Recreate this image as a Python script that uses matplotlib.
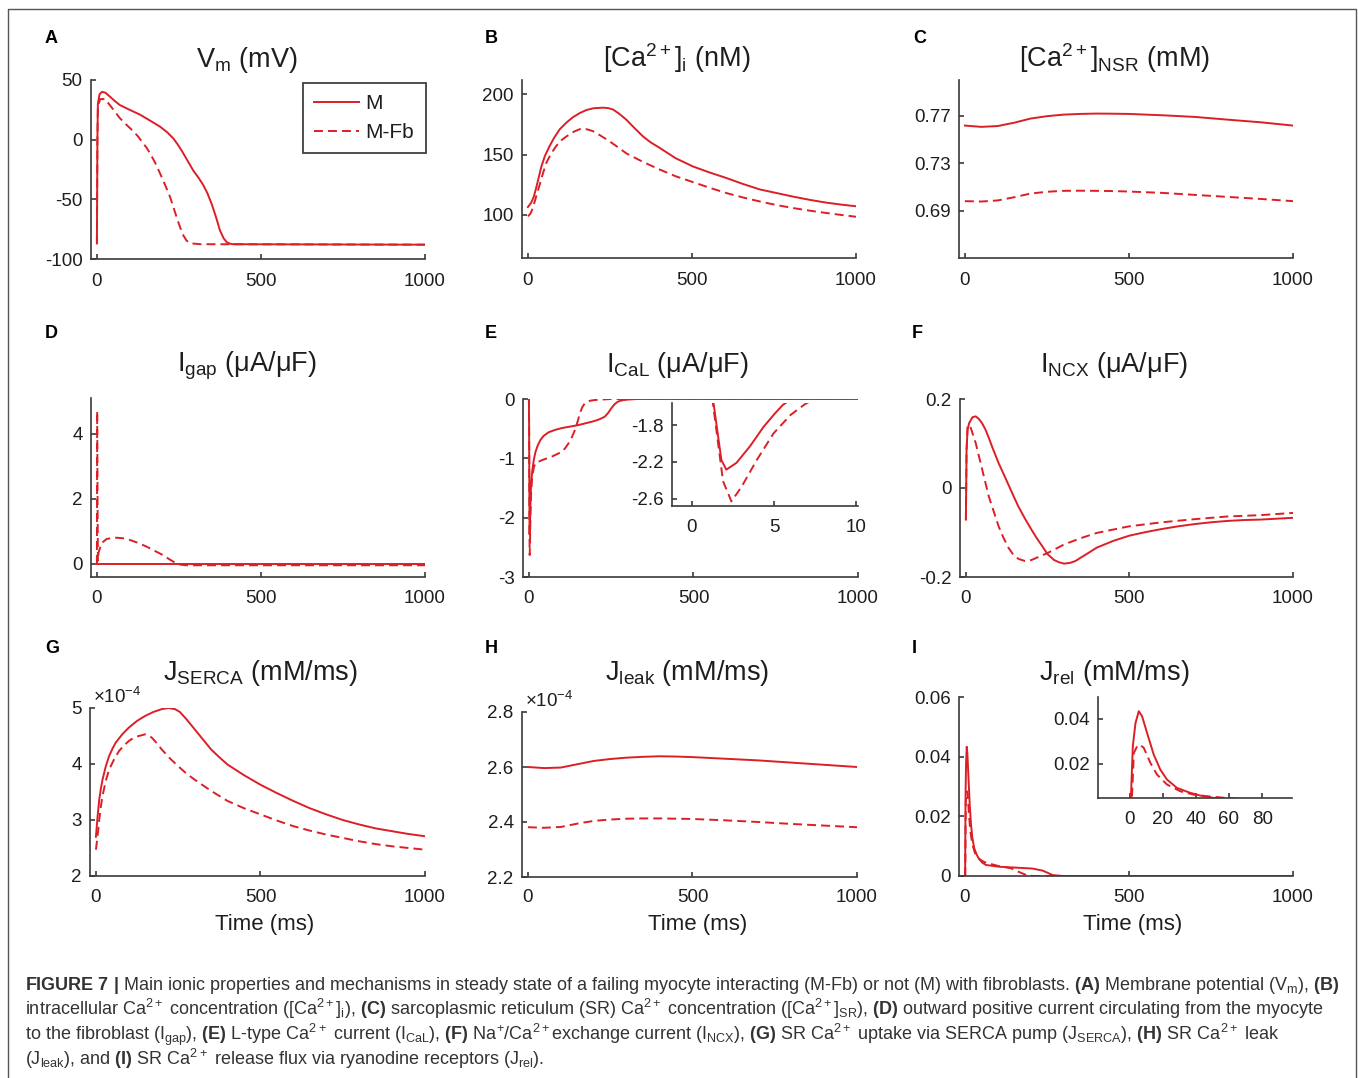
import numpy as np
import matplotlib
matplotlib.use('Agg')
import matplotlib.pyplot as plt
from matplotlib.lines import Line2D
from matplotlib.ticker import FuncFormatter

plt.rcParams['font.family'] = ['Liberation Sans', 'DejaVu Sans']
plt.rcParams['mathtext.fontset'] = 'custom'
plt.rcParams['mathtext.rm'] = 'Liberation Sans'
plt.rcParams['mathtext.it'] = 'Liberation Sans:italic'
plt.rcParams['mathtext.bf'] = 'Liberation Sans:bold'
plt.rcParams['axes.unicode_minus'] = False

RED = '#dc1f26'
AXC = '#3a3a3a'
TXT = '#1e1e1e'

# ---- A : Vm (mV) ----
vm_t_m = [0, 1.5, 3, 8, 15, 25, 40, 55, 70, 100, 131, 160, 192, 215, 233, 245, 258, 275, 294,
          310, 324, 337, 350, 362, 375, 386, 396, 406, 416, 1000]
vm_m = [-87, 0, 30, 38, 40, 39.5, 36, 32.3, 29, 25, 21, 16.3, 11, 6, 1, -3.5, -9, -17, -26,
        -32, -38, -45, -54, -64, -76, -82.5, -86, -87.2, -87.6, -88]
vm_t_fb = [0, 1.5, 3, 10, 25, 45, 70, 90, 111, 126, 141, 152, 162, 177, 192, 208, 223, 233, 243,
           253, 263, 273, 284, 314, 1000]
vm_fb = [-87, 0, 28, 34, 34, 27, 18, 12.5, 7, 2.5, -3, -7, -11.5, -19, -28, -38, -48, -56.5, -65,
         -73, -80, -84.5, -86.8, -87.6, -88]

# ---- B : [Ca2+]i (nM) ----
cai_t_m = [0, 10, 18, 25, 33, 41, 52, 66, 80, 97, 117, 137, 158, 178, 200, 229, 245, 259, 278,
           300, 325, 351, 375, 402, 450, 504, 555, 605, 656, 707, 758, 809, 860, 910, 955, 1000]
cai_m = [106.4, 110, 115, 122, 131, 140, 149, 157, 164, 171, 176.5, 181, 184.5, 187, 188.5, 189,
         188.6, 187.5, 184, 179, 172, 165, 160, 155.5, 147, 140, 135, 130.5, 125.5, 121, 118, 115,
         112.3, 110, 108.4, 107]
cai_t_fb = [0, 8, 15, 25, 36, 46, 56, 70, 86, 100, 117, 140, 163, 180, 198, 220, 249, 275, 300,
            350, 402, 450, 504, 555, 605, 656, 707, 758, 809, 860, 910, 955, 1000]
cai_fb = [98.6, 101, 105.5, 115, 125, 134.5, 143, 150.5, 157, 161.5, 165, 169, 171.7, 171, 169.5,
          166, 161, 156, 151, 144, 137.5, 132, 127, 122.3, 118, 114.3, 111, 108, 105.5, 103.3,
          101.4, 99.8, 98.3]

# ---- C : [Ca2+]NSR (mM) ----
nsr_t = [0, 50, 100, 150, 200, 250, 300, 350, 400, 450, 500, 600, 700, 800, 900, 1000]
nsr_m = [0.7616, 0.7605, 0.7612, 0.7640, 0.7675, 0.7695, 0.7708, 0.7714, 0.7717, 0.7716, 0.7714,
         0.7703, 0.7689, 0.7666, 0.7644, 0.7616]
nsr_fb = [0.6979, 0.6976, 0.6985, 0.7012, 0.7043, 0.7058, 0.7066, 0.7067, 0.7066, 0.7064, 0.7060,
          0.7049, 0.7032, 0.7015, 0.6998, 0.6979]

# ---- D : Igap (uA/uF) ----
igap_t_m = [0, 1000]
igap_m = [0, 0]
igap_t_fb = [0, 0.8, 2, 3, 5, 14, 30, 55, 80, 100, 125, 150, 175, 200, 220, 240, 255, 270, 1000]
igap_fb = [0, 4.7, 2.0, 0.1, 0.35, 0.64, 0.77, 0.81, 0.79, 0.74, 0.65, 0.54, 0.41, 0.28, 0.15,
           0.03, -0.02, -0.04, -0.04]

# ---- E : ICaL (uA/uF) ----
ical_t_m = [0, 0.6, 1.0, 1.33, 1.8, 2.1, 2.72, 3.54, 4.36, 5.07, 5.54, 7, 10, 15, 20, 27, 35, 45,
            60, 80, 100, 150, 200, 215, 230, 240, 250, 260, 270, 285, 300, 330, 1000]
ical_m = [0, -0.5, -1.1, -1.57, -2.18, -2.285, -2.21, -2.03, -1.82, -1.67, -1.58, -1.40, -1.22,
          -1.02, -0.89, -0.78, -0.69, -0.62, -0.56, -0.52, -0.49, -0.44, -0.37, -0.34, -0.30,
          -0.24, -0.16, -0.09, -0.045, -0.02, -0.01, 0, 0]
ical_t_fb = [0, 0.6, 1.0, 1.29, 1.9, 2.41, 3.03, 3.95, 4.97, 6.0, 6.9, 8.5, 10, 15, 20, 40, 70,
             100, 110, 120, 130, 140, 148, 155, 162, 170, 185, 200, 250, 1000]
ical_fb = [0, -0.5, -1.1, -1.57, -2.41, -2.63, -2.47, -2.18, -1.89, -1.69, -1.57, -1.42, -1.31,
           -1.15, -1.08, -1.03, -0.97, -0.89, -0.83, -0.75, -0.65, -0.52, -0.38, -0.24, -0.14,
           -0.07, -0.03, -0.017, 0, 0]

# ---- F : INCX (uA/uF) ----
incx_t_m = [0, 2, 5, 10, 20, 30, 40, 50, 60, 70, 80, 100, 115, 130, 145, 160, 180, 200, 215, 230,
            250, 270, 285, 300, 320, 335, 350, 370, 400, 450, 500, 550, 600, 650, 700, 750, 800,
            850, 900, 950, 1000]
incx_m = [-0.071, 0.086, 0.13, 0.146, 0.159, 0.161, 0.155, 0.145, 0.131, 0.113, 0.093, 0.056,
          0.032, 0.0075, -0.017, -0.041, -0.068, -0.093, -0.111, -0.127, -0.149, -0.162, -0.167,
          -0.170, -0.168, -0.164, -0.157, -0.148, -0.134, -0.119, -0.107, -0.099, -0.092, -0.086,
          -0.081, -0.077, -0.074, -0.072, -0.071, -0.069, -0.067]
incx_t_fb = [0, 2, 5, 10, 15, 30, 50, 70, 100, 115, 130, 145, 160, 180, 200, 250, 300, 350, 400,
             500, 600, 700, 800, 900, 1000]
incx_fb = [-0.071, 0.08, 0.138, 0.142, 0.135, 0.101, 0.041, -0.019, -0.086, -0.112, -0.134,
           -0.150, -0.159, -0.164, -0.162, -0.146, -0.127, -0.113, -0.101, -0.086, -0.077,
           -0.070, -0.064, -0.061, -0.056]

# ---- G : JSERCA (x1e-4 mM/ms) ----
serca_t_m = [0, 5, 10, 15, 20, 30, 40, 50, 60, 80, 100, 125, 150, 175, 200, 220, 240, 255, 275,
             300, 325, 350, 375, 400, 450, 500, 550, 600, 650, 700, 750, 800, 850, 900, 950, 1000]
serca_m = [2.7, 3.06, 3.36, 3.56, 3.72, 3.96, 4.14, 4.27, 4.38, 4.53, 4.65, 4.77, 4.86, 4.93,
           4.98, 5.0, 4.98, 4.93, 4.80, 4.62, 4.44, 4.26, 4.12, 3.99, 3.80, 3.63, 3.48, 3.34,
           3.21, 3.10, 3.0, 2.92, 2.85, 2.80, 2.75, 2.71]
serca_t_fb = [0, 5, 10, 15, 20, 30, 40, 55, 70, 85, 100, 115, 130, 150, 160, 170, 185, 200, 225,
              250, 275, 300, 350, 400, 450, 500, 550, 600, 650, 700, 750, 800, 850, 900, 950, 1000]
serca_fb = [2.47, 2.71, 3.0, 3.24, 3.43, 3.70, 3.90, 4.08, 4.23, 4.33, 4.41, 4.47, 4.50, 4.53,
            4.51, 4.47, 4.37, 4.26, 4.10, 3.96, 3.83, 3.72, 3.52, 3.34, 3.21, 3.10, 2.99, 2.89,
            2.81, 2.74, 2.68, 2.62, 2.57, 2.53, 2.50, 2.47]

# ---- H : Jleak (x1e-4 mM/ms) ----
leak_t = [0, 50, 100, 150, 200, 250, 300, 350, 400, 450, 500, 600, 700, 800, 900, 1000]
leak_m = [2.600, 2.596, 2.598, 2.610, 2.622, 2.629, 2.634, 2.637, 2.639, 2.638, 2.636, 2.630,
          2.624, 2.616, 2.608, 2.600]
leak_fb = [2.381, 2.379, 2.382, 2.394, 2.404, 2.409, 2.412, 2.413, 2.413, 2.412, 2.411, 2.406,
           2.400, 2.393, 2.387, 2.381]

# ---- I : Jrel (mM/ms) ----
rel_t_m = [0, 0.6, 2, 3.6, 5.6, 7.6, 10.6, 14.6, 18.6, 22.6, 28.6, 36.6, 42.6, 52.6, 64, 105,
           156, 206, 237, 268, 298, 1000]
rel_m = [0, 0, 0.0277, 0.038, 0.0433, 0.041, 0.0336, 0.024, 0.0173, 0.0129, 0.0092, 0.007,
         0.0058, 0.0045, 0.0037, 0.0031, 0.0028, 0.0025, 0.0018, 0.0003, 0, 0]
rel_t_fb = [0, 1.2, 2.6, 4.6, 6.2, 8.6, 12.6, 16.6, 22.6, 30.6, 38.6, 46.6, 58.6, 70, 100, 140,
            170, 190, 210, 1000]
rel_fb = [0, 0, 0.0247, 0.0277, 0.0284, 0.027, 0.0203, 0.0151, 0.0107, 0.0077, 0.0062, 0.0055,
          0.0047, 0.0043, 0.0034, 0.0026, 0.0011, 0.0002, 0, 0]

W, H = 1358, 1078
fig = plt.figure(figsize=(W / 100, H / 100), dpi=100)


def px_axes(l, t, r, b):
    return fig.add_axes([l / W, 1 - b / H, (r - l) / W, (b - t) / H])


def style(ax, xlim, ylim, xt, yt, xpad=10):
    ax.set_xlim(xlim)
    ax.set_ylim(ylim)
    ax.set_xticks(xt)
    ax.set_yticks(yt)
    for s in ['top', 'right']:
        ax.spines[s].set_visible(False)
    for s in ['left', 'bottom']:
        ax.spines[s].set_color(AXC)
        ax.spines[s].set_linewidth(1.2)
    ax.tick_params(direction='in', length=3.5, width=1.2, color=AXC,
                   labelcolor=TXT, labelsize=13.5)
    ax.tick_params(axis='x', pad=xpad)
    ax.tick_params(axis='y', pad=6)
    ax.patch.set_alpha(0)
    ax.yaxis.set_major_formatter(FuncFormatter(lambda v, p: f'{v:g}'))


def curves(ax, t1, y1, t2, y2):
    ax.plot(t1, y1, color=RED, lw=1.4, label='M')
    l2, = ax.plot(t2, y2, color=RED, lw=1.4, label='M-Fb')
    l2.set_dashes((4.6, 2.6))
    return ax


def ftext(x, y, s, **kw):
    fig.text(x / W, 1 - y / H, s, va='baseline', **kw)


XL = (-18, 1000)
XT = [0, 500, 1000]

# Row 1
axA = px_axes(91, 80, 425, 259)
curves(axA, vm_t_m, vm_m, vm_t_fb, vm_fb)
style(axA, XL, (-100, 50), XT, [-100, -50, 0, 50])
leg = axA.legend(loc='upper left', bbox_to_anchor=(303 / W, 1 - 83 / H),
                 bbox_transform=fig.transFigure, fontsize=15, frameon=True,
                 fancybox=False, handlelength=2.15, handletextpad=0.3,
                 borderpad=0.55, labelspacing=0.45, borderaxespad=0)
leg.get_frame().set_edgecolor('#111111')
leg.get_frame().set_linewidth(1.3)
for t in leg.get_texts():
    t.set_color(TXT)

axB = px_axes(522, 80, 856, 258)
curves(axB, cai_t_m, cai_m, cai_t_fb, cai_fb)
style(axB, XL, (64, 212), XT, [100, 150, 200])

axC = px_axes(959, 80, 1293, 258)
curves(axC, nsr_t, nsr_m, nsr_t, nsr_fb)
style(axC, XL, (0.65, 0.80), XT, [0.69, 0.73, 0.77])

# Row 2
axD = px_axes(91, 398, 425, 577)
curves(axD, igap_t_m, igap_m, igap_t_fb, igap_fb)
style(axD, XL, (-0.4, 5.1), XT, [0, 2, 4], xpad=9.5)

axE = px_axes(523, 399, 858, 577)
curves(axE, ical_t_m, ical_m, ical_t_fb, ical_fb)
style(axE, XL, (-3, 0), XT, [-3, -2, -1, 0], xpad=9.5)

axEi = px_axes(672, 403, 858, 506)
curves(axEi, ical_t_m, ical_m, ical_t_fb, ical_fb)
style(axEi, (-1.2, 10.1), (-2.68, -1.56), [0, 5, 10], [-2.6, -2.2, -1.8], xpad=9.5)

axF = px_axes(960, 399, 1293, 577)
curves(axF, incx_t_m, incx_m, incx_t_fb, incx_fb)
style(axF, XL, (-0.2, 0.2), XT, [-0.2, 0, 0.2], xpad=9.5)

# Row 3
axG = px_axes(90, 708, 425, 876)
curves(axG, serca_t_m, serca_m, serca_t_fb, serca_fb)
style(axG, XL, (2, 5), XT, [2, 3, 4, 5], xpad=9)

axH = px_axes(522, 712, 857, 877)
curves(axH, leak_t, leak_m, leak_t, leak_fb)
style(axH, XL, (2.2, 2.8), XT, [2.2, 2.4, 2.6, 2.8], xpad=9)

axI = px_axes(959, 697, 1293, 876)
curves(axI, rel_t_m, rel_m, rel_t_fb, rel_fb)
style(axI, XL, (0, 0.06), XT, [0, 0.02, 0.04, 0.06], xpad=9)

axIi = px_axes(1098, 697, 1292, 798)
curves(axIi, rel_t_m, rel_m, rel_t_fb, rel_fb)
style(axIi, (-19, 98), (0.0047, 0.0496), [0, 20, 40, 60, 80], [0.02, 0.04], xpad=9.5)

# titles
titles = [
    (247, 67, r'V$_\mathregular{m}$ (mV)'),
    (677, 67, r'[Ca$^\mathregular{2+}$]$_\mathregular{i}$ (nM)'),
    (1114, 67, r'[Ca$^\mathregular{2+}$]$_\mathregular{NSR}$ (mM)'),
    (247, 372, r'I$_\mathregular{gap}$ (μA/μF)'),
    (677, 372, r'I$_\mathregular{CaL}$ (μA/μF)'),
    (1114, 372, r'I$_\mathregular{NCX}$ (μA/μF)'),
    (260, 680, r'J$_\mathregular{SERCA}$ (mM/ms)'),
    (687, 680, r'J$_\mathregular{leak}$ (mM/ms)'),
    (1114, 680, r'J$_\mathregular{rel}$ (mM/ms)'),
]
for x, y, s in titles:
    ftext(x, y, s, ha='center', fontsize=19.5, color=TXT)

letters = [(45, 43, 'A'), (485, 43, 'B'), (913, 43, 'C'),
           (45, 338, 'D'), (485, 338, 'E'), (912, 338, 'F'),
           (45, 653, 'G'), (485, 653, 'H'), (912, 653, 'I')]
for x, y, s in letters:
    ftext(x, y, s, fontsize=13, fontweight='bold', color='black')

for x in [265, 698, 1133]:
    ftext(x, 930, 'Time (ms)', ha='center', fontsize=16, color=TXT)

ftext(93, 703, r'×10$^\mathregular{-4}$', fontsize=13.5, color=TXT)
ftext(525, 707, r'×10$^\mathregular{-4}$', fontsize=13.5, color=TXT)

caption = [
    r'$\mathbf{FIGURE\ 7\ |}$ Main ionic properties and mechanisms in steady state of a failing myocyte '
    r'interacting (M-Fb) or not (M) with fibroblasts. $\mathbf{(A)}$ Membrane potential (V$_\mathregular{m}$), $\mathbf{(B)}$',
    r'intracellular Ca$^\mathregular{2+}$ concentration ([Ca$^\mathregular{2+}$]$_\mathregular{i}$), $\mathbf{(C)}$ '
    r'sarcoplasmic reticulum (SR) Ca$^\mathregular{2+}$ concentration ([Ca$^\mathregular{2+}$]$_\mathregular{SR}$), '
    r'$\mathbf{(D)}$ outward positive current circulating from the myocyte',
    r'to the fibroblast (I$_\mathregular{gap}$), $\mathbf{(E)}$ L-type Ca$^\mathregular{2+}$ current (I$_\mathregular{CaL}$), '
    r'$\mathbf{(F)}$ Na$^\mathregular{+}$/Ca$^\mathregular{2+}$exchange current (I$_\mathregular{NCX}$), $\mathbf{(G)}$ SR '
    r'Ca$^\mathregular{2+}$ uptake via SERCA pump (J$_\mathregular{SERCA}$), $\mathbf{(H)}$ SR Ca$^\mathregular{2+}$ leak',
    r'(J$_\mathregular{leak}$), and $\mathbf{(I)}$ SR Ca$^\mathregular{2+}$ release flux via ryanodine receptors (J$_\mathregular{rel}$).',
]
for i, line in enumerate(caption):
    ftext(25, 990 + 25 * i, line, fontsize=13.0, color='#333333')

# outer frame
fig.add_artist(Line2D([8 / W, 8 / W, 1356 / W, 1356 / W], [0, 1 - 9 / H, 1 - 9 / H, 0],
                      transform=fig.transFigure, color='#555555', lw=1.0))

fig.savefig('out.png', dpi=100)
